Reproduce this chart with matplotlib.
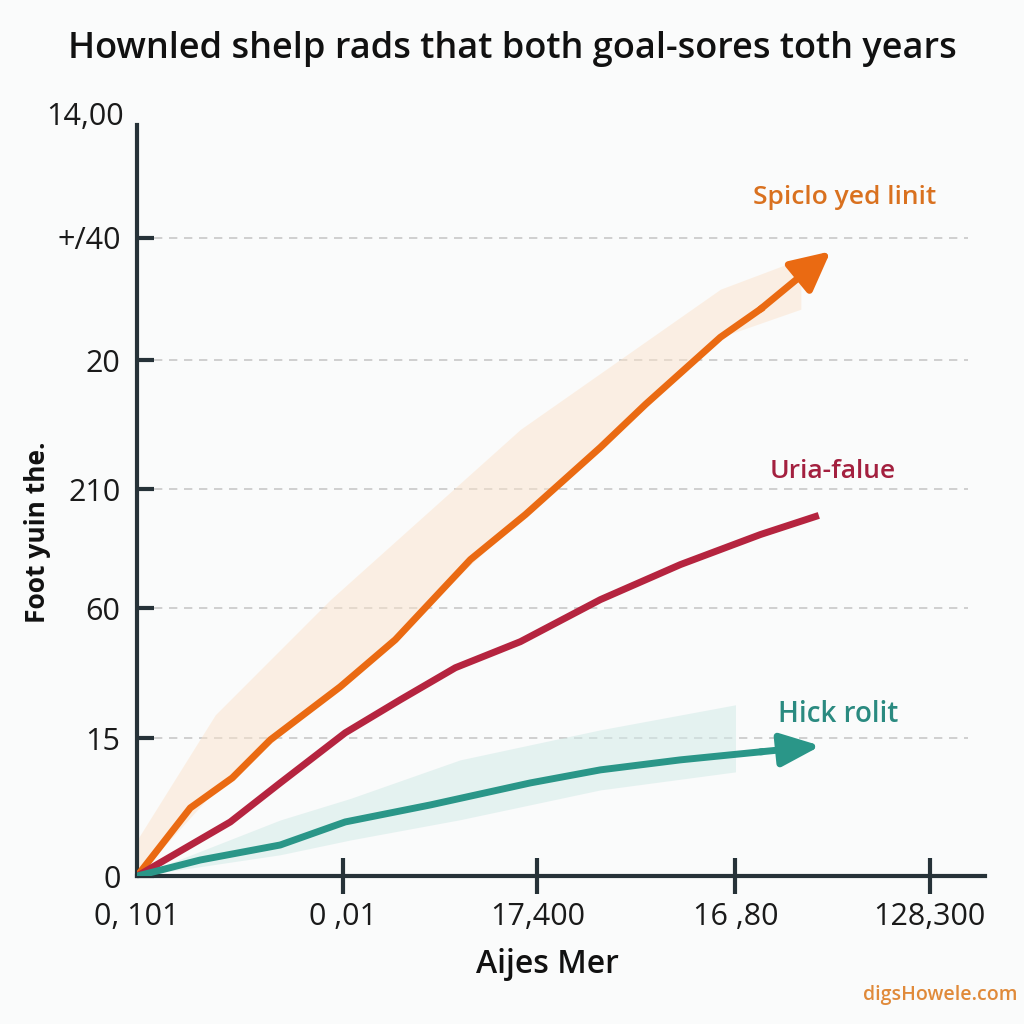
import matplotlib
matplotlib.use("Agg")
import matplotlib.pyplot as plt
import numpy as np

plt.rcParams['font.family'] = ['Open Sans', 'Noto Sans', 'DejaVu Sans']

title = "Hownled shelp rads that both goal-sores toth years"
xlabel = "Aijes Mer"
ylabel = "Foot yuin the."

xtick_pos = [0, 1.04, 2.02, 3.02, 4.0]
xtick_labels = ["0, 101", "0 ,01", "17,400", "16 ,80", "128,300"]
ytick_pos = [0, 1.10, 2.14, 3.09, 4.12, 5.10]
ytick_labels = ["0", "15", "60", "210", "20", "+/40"]
ytop_label = "14,00"

# series (axis units)
orange_x = [0, 0.268, 0.48, 0.672, 1.025, 1.303, 1.682, 1.96, 2.338, 2.566, 2.944, 3.146]
orange_y = [0, 0.544, 0.784, 1.088, 1.512, 1.888, 2.528, 2.888, 3.424, 3.768, 4.304, 4.528]
orange_tip = (3.50, 4.99)
orange_band_x = [0, 0.394, 0.975, 1.934, 2.944, 3.35]
orange_band_hi = [0.29, 1.288, 2.208, 3.568, 4.688, 4.93]

red_x = [0, 0.47, 0.722, 1.05, 1.328, 1.606, 1.934, 2.338, 2.742, 3.146, 3.424]
red_y = [0, 0.432, 0.744, 1.144, 1.408, 1.664, 1.872, 2.208, 2.488, 2.728, 2.872]

teal_x = [0, 0.318, 0.722, 1.05, 1.48, 1.985, 2.338, 2.742, 3.146]
teal_y = [0, 0.128, 0.248, 0.432, 0.568, 0.744, 0.848, 0.928, 0.992]
teal_tip = (3.45, 1.04)
teal_band_x = [0, 0.722, 1.076, 1.63, 2.338, 3.02]
teal_band_hi = [0.0, 0.448, 0.62, 0.928, 1.168, 1.368]
teal_band_lo = [0.0, 0.17, 0.288, 0.45, 0.688, 0.832]

C_OR = "#ea6a12"
C_RED = "#b5243f"
C_TEAL = "#2a9688"
BG = "#fafbfb"

fig = plt.figure(figsize=(10.24, 10.24), dpi=100, facecolor=BG)
ax = fig.add_axes([0.134, 0.1445, 0.828, 0.7335])
ax.set_facecolor(BG)
ax.set_xlim(0, 4.28)
ax.set_ylim(0, 6.0)

# bands
ox = np.array(orange_band_x)
ax.fill_between(ox, np.interp(ox, orange_x, orange_y), orange_band_hi,
                color="#fbe3cc", alpha=0.5, lw=0, zorder=1)
ax.fill_between(teal_band_x, teal_band_lo, teal_band_hi, color="#d3ebe8", alpha=0.55, lw=0, zorder=1)

# grid
for yp in ytick_pos[1:]:
    ax.axhline(yp, xmin=0.02, xmax=0.98, color="#c8c8c8", ls=(0, (5, 4)), lw=1.2, zorder=0)

# lines
ax.plot(orange_x, orange_y, color=C_OR, lw=5, zorder=3)
ax.annotate("", xy=orange_tip, xytext=(orange_x[-1], orange_y[-1]),
            arrowprops=dict(arrowstyle="-|>,head_length=1.2,head_width=0.6", color=C_OR, lw=5,
                            mutation_scale=20, shrinkA=0, shrinkB=0), zorder=3)
ax.plot(red_x, red_y, color=C_RED, lw=5, zorder=3)
ax.plot(teal_x, teal_y, color=C_TEAL, lw=5, zorder=3)
ax.annotate("", xy=teal_tip, xytext=(teal_x[-1], teal_y[-1]),
            arrowprops=dict(arrowstyle="-|>,head_length=1.2,head_width=0.5", color=C_TEAL, lw=5,
                            mutation_scale=20, shrinkA=0, shrinkB=0), zorder=3)

# series labels
ax.text(3.57, 5.42, "Spiclo yed linit", color="#d9711f", fontsize=19, fontweight="semibold", ha="center", va="center")
ax.text(3.51, 3.23, "Uria-falue", color="#a3203f", fontsize=19, fontweight="semibold", ha="center", va="center")
ax.text(3.54, 1.29, "Hick rolit", color="#2a8a80", fontsize=20, fontweight="semibold", ha="center", va="center")

# spines
for s in ["top", "right"]:
    ax.spines[s].set_visible(False)
for s in ["left", "bottom"]:
    ax.spines[s].set_color("#263238")
    ax.spines[s].set_linewidth(3)

ax.set_yticks(ytick_pos)
ax.set_yticklabels(ytick_labels, fontsize=22, color="#1a1a1a")
ax.tick_params(axis="y", direction="in", length=12, width=3, color="#263238", pad=12)
ax.set_xticks(xtick_pos)
ax.set_xticklabels(xtick_labels, fontsize=22, color="#1a1a1a")
ax.tick_params(axis="x", direction="inout", length=26, width=3, color="#263238", pad=6)
ax.get_xticklines()[0].set_visible(False)
ax.get_xticklines()[1].set_visible(False)

ax.text(-0.07, 6.06, ytop_label, fontsize=22, color="#1a1a1a", ha="right", va="center")

fig.text(0.5, 0.952, title, ha="center", va="center", fontsize=26, color="#111111", fontweight="semibold")
fig.text(0.037, 0.48, ylabel, rotation=90, ha="center", va="center", fontsize=19, fontweight="bold", color="#111111")
fig.text(0.535, 0.058, xlabel, ha="center", va="center", fontsize=23, fontweight="semibold", color="#111111")
fig.text(0.918, 0.028, "digsHowele.com", ha="center", va="center", fontsize=14, color="#e08a3a", fontweight="semibold")

fig.savefig("out.png", dpi=100, facecolor=BG)
